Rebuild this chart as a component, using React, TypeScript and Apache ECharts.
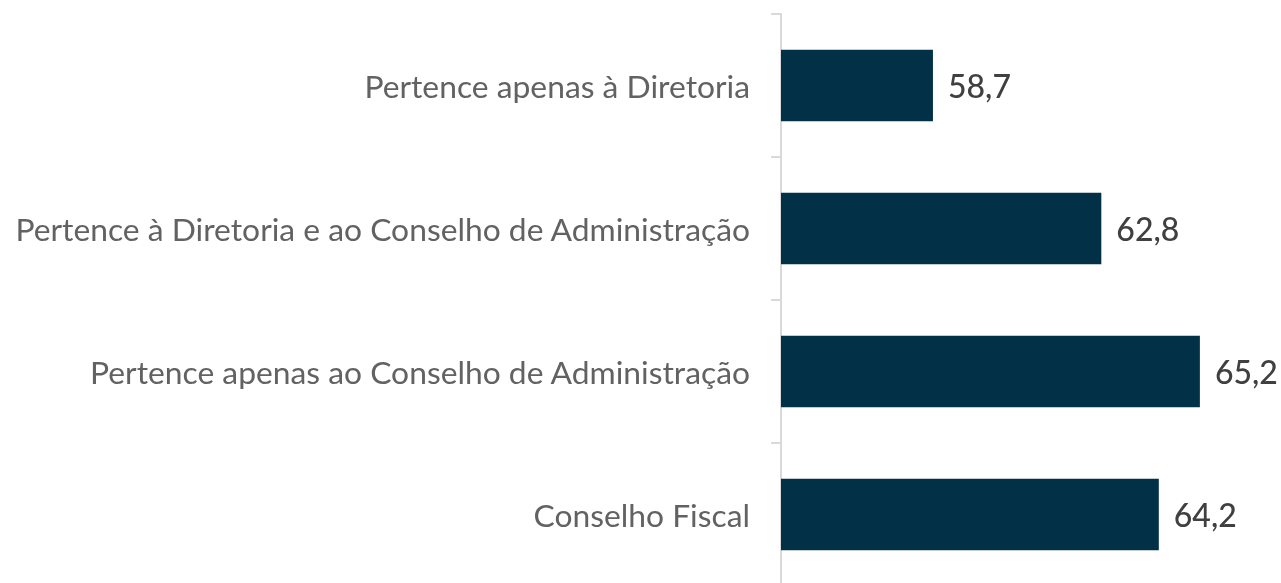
import React, { useEffect, useRef } from "react";
import * as echarts from "echarts";

const categories = [
  "Pertence apenas à Diretoria",
  "Pertence à Diretoria e ao Conselho de Administração",
  "Pertence apenas ao Conselho de Administração",
  "Conselho Fiscal",
];
const values = [58.7, 62.8, 65.2, 64.2];
const axisMin = 55;
const axisMax = 70;

export default function App() {
  const ref = useRef<HTMLDivElement>(null);
  useEffect(() => {
    if (!ref.current) return;
    const chart = echarts.init(ref.current, null, { renderer: "svg" });
    chart.setOption({
      animation: false,
      grid: { left: 781, top: 14, width: 616, height: 572, outerBoundsMode: "none", containLabel: false },
      xAxis: {
        type: "value",
        min: axisMin,
        max: axisMax,
        show: false,
      },
      yAxis: {
        type: "category",
        inverse: true,
        data: categories,
        axisLine: { show: true, lineStyle: { color: "#d9d9d9", width: 2 } },
        axisTick: { show: true, length: 10, lineStyle: { color: "#d9d9d9", width: 2 } },
        axisLabel: {
          margin: 31,
          color: "#626262",
          fontSize: 31.8,
          fontFamily: "Lato",
        },
        splitLine: { show: false },
      },
      series: [
        {
          type: "bar",
          data: values,
          barWidth: "50%",
          itemStyle: { color: "#023047" },
          label: {
            show: true,
            position: "right",
            distance: 15,
            color: "#404040",
            fontSize: 32,
            fontFamily: "Lato",
            fontWeight: 500,
            formatter: (p: any) => String(p.value.toFixed(1)).replace(".", ","),
          },
        },
      ],
    });
    return () => chart.dispose();
  }, []);
  return (
    <div
      ref={ref}
      style={{ position: "fixed", left: 0, top: 0, width: 1281, height: 583 }}
    />
  );
}
